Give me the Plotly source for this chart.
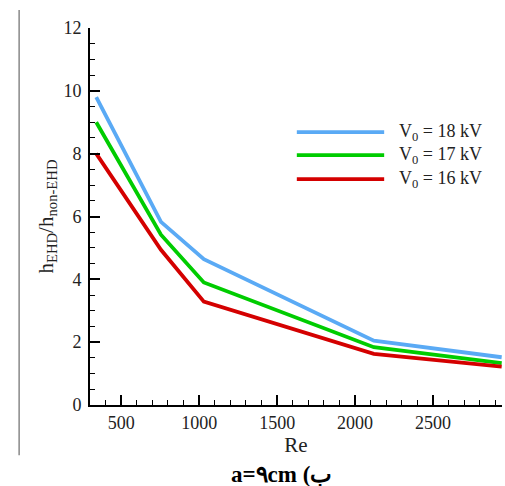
import plotly.graph_objects as go

re_vals = [340, 755, 1030, 2120, 2940]
v18 = [9.8, 5.83, 4.64, 2.05, 1.52]
v17 = [9.0, 5.42, 3.90, 1.84, 1.33]
v16 = [8.0, 4.94, 3.29, 1.63, 1.22]
names = ["V<sub>0</sub> = 18 kV", "V<sub>0</sub> = 17 kV", "V<sub>0</sub> = 16 kV"]
colors = ["#5aaaf5", "#00cc00", "#d40000"]
series = [v18, v17, v16]

FONT = "Liberation Serif"

fig = go.Figure()
for name, col, ys in zip(names, colors, series):
    fig.add_trace(go.Scatter(x=re_vals, y=ys, mode="lines", name=name,
                             line=dict(color=col, width=3.8), showlegend=False))

# manual legend (long line samples like the reference)
leg_y = [0.724, 0.663, 0.599]
for name, col, yy in zip(names, colors, leg_y):
    fig.add_shape(type="line", xref="paper", yref="paper", x0=0.502, x1=0.714,
                  y0=yy, y1=yy, line=dict(color=col, width=3.8))
    fig.add_annotation(xref="paper", yref="paper", x=0.745, y=yy, text=name,
                       showarrow=False, xanchor="left", yanchor="middle",
                       font=dict(family=FONT, size=18, color="#222"))

# page border line at left
fig.add_shape(type="line", xref="paper", yref="paper", x0=-0.172, x1=-0.172,
              y0=1.048, y1=-0.133, line=dict(color="#888888", width=1.5))

fig.add_annotation(xref="paper", yref="paper", x=0.464, y=-0.185,
                   text="<b>a=٩cm (ب</b>", showarrow=False,
                   xanchor="center", yanchor="middle",
                   font=dict(family=FONT, size=23, color="#000"))

tickfont = dict(family=FONT, size=18, color="#222")
fig.update_layout(
    width=505, height=486,
    margin=dict(l=90, r=3, t=28, b=81),
    paper_bgcolor="white", plot_bgcolor="white",
    font=dict(family=FONT, size=18, color="#222"),
    xaxis=dict(range=[300, 2942], showgrid=False, zeroline=False,
               showline=True, linecolor="black", linewidth=2,
               ticks="inside", ticklen=10, tickwidth=1.5, tickcolor="black",
               tickvals=[500, 1000, 1500, 2000, 2500], tickfont=tickfont,
               minor=dict(ticks="inside", ticklen=5, dtick=100, tick0=0,
                          tickcolor="black", tickwidth=1),
               title=dict(text="Re", font=dict(family=FONT, size=21), standoff=4)),
    yaxis=dict(range=[0, 12], showgrid=False, zeroline=False,
               showline=True, linecolor="black", linewidth=2,
               ticks="inside", ticklen=10, tickwidth=1.5, tickcolor="black",
               tickvals=[0, 2, 4, 6, 8, 10, 12], tickfont=tickfont,
               ticklabelstandoff=3,
               minor=dict(ticks="inside", ticklen=5, dtick=0.5, tick0=0,
                          tickcolor="black", tickwidth=1),
               title=dict(text="h<sub>EHD</sub>/h<sub>non-EHD</sub>",
                          font=dict(family=FONT, size=21), standoff=4)),
)

fig.write_html("out.html", config={"displayModeBar": False},
               post_script="document.body.style.margin='0';")
